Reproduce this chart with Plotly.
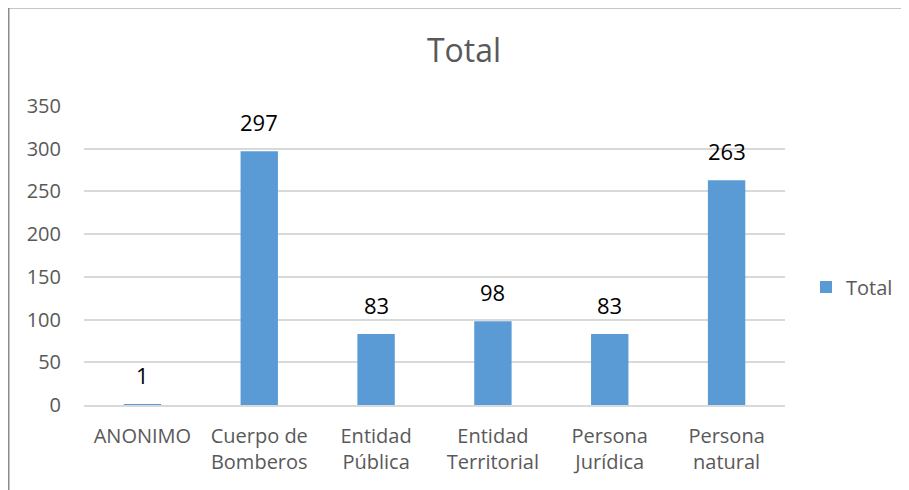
import plotly.graph_objects as go

categories = ["ANONIMO", "Cuerpo de<br>Bomberos", "Entidad<br>Pública", "Entidad<br>Territorial", "Persona<br>Jurídica", "Persona<br>natural"]
values = [1, 297, 83, 98, 83, 263]
y_ticks = [0, 50, 100, 150, 200, 250, 300, 350]

# page body has an 8px margin; figure fills the rest of the 909x490 window
OFF = 8
W, H = 909 - OFF, 490 - OFF
# plot area in screen pixels: x 84..785, y 106..405
L, R, T, B = 84 - OFF, 909 - 785, 106 - OFF, 490 - 405
pw, ph = W - L - R, H - T - B

def px_x(p):
    return (p - OFF - L) / pw

def px_y(p):
    return (H - B - (p - OFF)) / ph

FONT = "Open Sans"
BAR = "#5b9bd5"

fig = go.Figure()
fig.add_trace(go.Bar(x=categories, y=values, name="Total", marker_color=BAR,
                     marker_line_width=0, hoverinfo="skip"))

annotations = [
    dict(x=c, y=v, xref="x", yref="y", text=str(v), showarrow=False,
         yanchor="bottom", yshift=12, font=dict(family=FONT, size=22, color="#000000"))
    for c, v in zip(categories, values)
]

fig.update_layout(
    width=W, height=H,
    margin=dict(l=L, r=R, t=T, b=B, pad=0, autoexpand=False),
    paper_bgcolor="white", plot_bgcolor="white",
    bargap=0.68,
    title=dict(text="Total", x=(464 - OFF) / W, xref="container", xanchor="center",
               y=1 - (51 - OFF) / H, yref="container", yanchor="middle",
               font=dict(family=FONT, size=32, color="#595959")),
    showlegend=True,
    legend=dict(x=px_x(806), y=px_y(287), xref="paper", yref="paper",
                xanchor="left", yanchor="middle", itemwidth=30,
                font=dict(family=FONT, size=20, color="#595959"),
                bgcolor="rgba(0,0,0,0)"),
    annotations=annotations,
    shapes=[
        dict(type="line", xref="paper", yref="paper", x0=px_x(8.75), x1=px_x(8.75),
             y0=px_y(7.5), y1=px_y(500), line=dict(color="#8c8c8c", width=1.5)),
        dict(type="line", xref="paper", yref="paper", x0=px_x(8.75), x1=px_x(920),
             y0=px_y(7.75), y1=px_y(7.75), line=dict(color="#8c8c8c", width=1.5)),
    ],
)

fig.update_yaxes(range=[0, 350], tickvals=y_ticks, showgrid=True, gridcolor="#d9d9d9",
                 gridwidth=1.5, zeroline=False, showline=False,
                 ticks="outside", ticklen=18, tickcolor="rgba(0,0,0,0)",
                 tickfont=dict(family=FONT, size=20, color="#595959"), fixedrange=True)
fig.update_xaxes(showgrid=False, showline=True, linecolor="#d9d9d9", linewidth=1.5,
                 ticks="outside", ticklen=12, tickcolor="rgba(0,0,0,0)",
                 tickfont=dict(family=FONT, size=20, color="#595959"), fixedrange=True)

fig.write_html("out.html")
